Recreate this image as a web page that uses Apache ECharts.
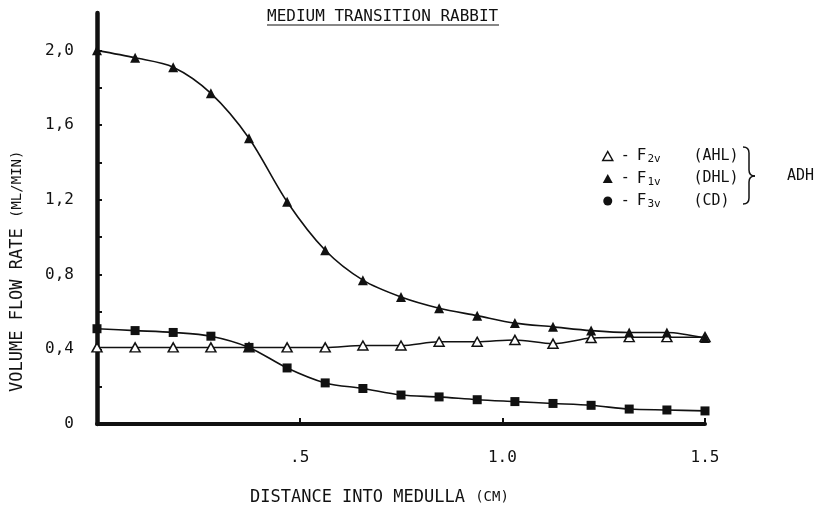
<!DOCTYPE html>
<html>
<head>
<meta charset="utf-8">
<script src="https://cdn.jsdelivr.net/npm/echarts@6/dist/echarts.min.js"></script>
<style>
  html, body { margin: 0; padding: 0; background: #fff; }
  #chart { width: 817px; height: 520px; }
</style>
</head>
<body>
<div id="chart"></div>
<script>
// Distance into medulla (cm) at each sample point
const distance = [0, 0.094, 0.188, 0.281, 0.375, 0.469, 0.563, 0.656, 0.75,
                  0.844, 0.938, 1.031, 1.125, 1.219, 1.313, 1.406, 1.5];
// Volume flow rates (ml/min)
const f2v = [0.41, 0.41, 0.41, 0.41, 0.41, 0.41, 0.41, 0.42, 0.42,
             0.44, 0.44, 0.45, 0.43, 0.46, 0.465, 0.465, 0.465];   // AHL
const f1v = [2.0, 1.96, 1.91, 1.77, 1.53, 1.19, 0.93, 0.77, 0.68,
             0.62, 0.58, 0.54, 0.52, 0.50, 0.49, 0.49, 0.46];      // DHL
const f3v = [0.51, 0.50, 0.49, 0.47, 0.41, 0.30, 0.22, 0.19, 0.155,
             0.145, 0.13, 0.12, 0.11, 0.10, 0.08, 0.075, 0.07];    // CD

const yLabelValues = [0, 0.4, 0.8, 1.2, 1.6, 2.0];
const yTickValues = [0.2, 0.4, 0.6, 0.8, 1.0, 1.2, 1.4, 1.6, 1.8, 2.0];
const xLabelValues = [0.5, 1.0, 1.5];
const xLabelText = { 0.5: '.5', 1: '1.0', 1.5: '1.5' };

const FONT = "'DejaVu Sans Mono', 'Liberation Mono', monospace";
const INK = '#111';

function pairs(ys) { return distance.map((x, i) => [x, ys[i]]); }

const chart = echarts.init(document.getElementById('chart'), null, { renderer: 'canvas' });

const legendText = {
  F2v: '{d|-}{f|F}{s|2v}{t|(AHL)}',
  F1v: '{d|-}{f|F}{s|1v}{t|(DHL)}',
  F3v: '{d|-}{f|F}{s|3v}{t|(CD)}'
};

// curly brace grouping the three legend rows
const braceStyle = { fill: 'none', stroke: INK, lineWidth: 1.5 };
const brace = [
  { type: 'bezierCurve', shape: { x1: 743, y1: 147, x2: 749, y2: 153, cpx1: 749, cpy1: 147 }, style: braceStyle },
  { type: 'line', shape: { x1: 749, y1: 153, x2: 749, y2: 170 }, style: braceStyle },
  { type: 'bezierCurve', shape: { x1: 749, y1: 170, x2: 755, y2: 176, cpx1: 749, cpy1: 176 }, style: braceStyle },
  { type: 'bezierCurve', shape: { x1: 755, y1: 176, x2: 749, y2: 182, cpx1: 749, cpy1: 176 }, style: braceStyle },
  { type: 'line', shape: { x1: 749, y1: 182, x2: 749, y2: 198 }, style: braceStyle },
  { type: 'bezierCurve', shape: { x1: 749, y1: 198, x2: 743, y2: 204, cpx1: 749, cpy1: 204 }, style: braceStyle }
];

chart.setOption({
  backgroundColor: '#fff',
  animation: false,
  textStyle: { fontFamily: FONT, color: INK },
  grid: { left: 97, right: 112, top: 13, bottom: 96 },
  xAxis: {
    type: 'value', min: 0, max: 1.5,
    axisLine: { show: true, onZero: false, lineStyle: { color: INK, width: 4 } },
    axisTick: { show: true, inside: true, length: 6, customValues: xLabelValues,
                lineStyle: { color: INK, width: 2 } },
    axisLabel: { show: true, customValues: xLabelValues, margin: 26, fontSize: 16,
                 fontFamily: FONT, color: INK,
                 formatter: v => xLabelText[v] || '' },
    splitLine: { show: false }
  },
  yAxis: {
    type: 'value', min: 0, max: 2.2,
    axisLine: { show: true, onZero: false, lineStyle: { color: INK, width: 4.5 } },
    axisTick: { show: true, inside: true, length: 5, customValues: yTickValues,
                lineStyle: { color: INK, width: 2 } },
    axisLabel: { show: true, customValues: yLabelValues, margin: 23, fontSize: 16,
                 fontFamily: FONT, color: INK,
                 formatter: v => v === 0 ? '0' : v.toFixed(1).replace('.', ',') },
    splitLine: { show: false }
  },
  legend: {
    orient: 'vertical', left: 597, top: 143,
    itemWidth: 10, itemHeight: 9, itemGap: 5.5,
    selectedMode: false,
    data: [
      { name: 'F2v', icon: 'triangle', itemStyle: { color: '#fff', borderColor: INK, borderWidth: 1.5 } },
      { name: 'F1v', icon: 'triangle', itemStyle: { color: INK } },
      { name: 'F3v', icon: 'circle', itemStyle: { color: INK } }
    ],
    formatter: name => legendText[name],
    textStyle: {
      fontFamily: FONT, color: INK,
      rich: {
        d: { fontSize: 15, fontFamily: FONT, color: INK, width: 16, padding: [0, 0, 0, 3] },
        f: { fontSize: 16, fontFamily: FONT, color: INK, lineHeight: 19 },
        s: { fontSize: 11, fontFamily: FONT, color: INK, width: 46, padding: [7, 0, 0, 1] },
        t: { fontSize: 15, fontFamily: FONT, color: INK }
      }
    }
  },
  graphic: [
    { type: 'text', left: 267, top: 9, z: 10,
      style: { text: 'MEDIUM TRANSITION RABBIT', fontSize: 16, fontFamily: FONT, fill: INK } },
    { type: 'line', shape: { x1: 267, y1: 25, x2: 499, y2: 25 }, style: { stroke: INK, lineWidth: 1.2 } },
    ...brace,
    { type: 'text', left: 787, top: 169,
      style: { text: 'ADH', fontSize: 15, fontFamily: FONT, fill: INK } },
    { type: 'text', left: 250, top: 489,
      style: { text: '{a|DISTANCE INTO MEDULLA }{b|(CM)}', fontFamily: FONT, fill: INK,
               rich: { a: { fontSize: 17, fontFamily: FONT, fill: INK },
                       b: { fontSize: 14, fontFamily: FONT, fill: INK } } } },
    { type: 'text', x: 9, y: 392, rotation: Math.PI / 2,
      style: { text: '{a|VOLUME FLOW RATE }{b|(ML/MIN)}', fontFamily: FONT, fill: INK,
               rich: { a: { fontSize: 17, fontFamily: FONT, fill: INK },
                       b: { fontSize: 14, fontFamily: FONT, fill: INK } } } }
  ],
  series: [
    { name: 'F2v', type: 'line', data: pairs(f2v), smooth: 0.3,
      symbol: 'triangle', symbolSize: [10, 9],
      lineStyle: { color: INK, width: 1.5 },
      itemStyle: { color: '#fff', borderColor: INK, borderWidth: 1.5 }, z: 3 },
    { name: 'F1v', type: 'line', data: pairs(f1v), smooth: 0.3,
      symbol: 'triangle', symbolSize: [10, 10],
      lineStyle: { color: INK, width: 1.6 },
      itemStyle: { color: INK }, z: 4 },
    { name: 'F3v', type: 'line', data: pairs(f3v), smooth: 0.3,
      symbol: 'rect', symbolSize: 9,
      lineStyle: { color: INK, width: 1.6 },
      itemStyle: { color: INK }, z: 4 }
  ]
});
</script>
</body>
</html>
